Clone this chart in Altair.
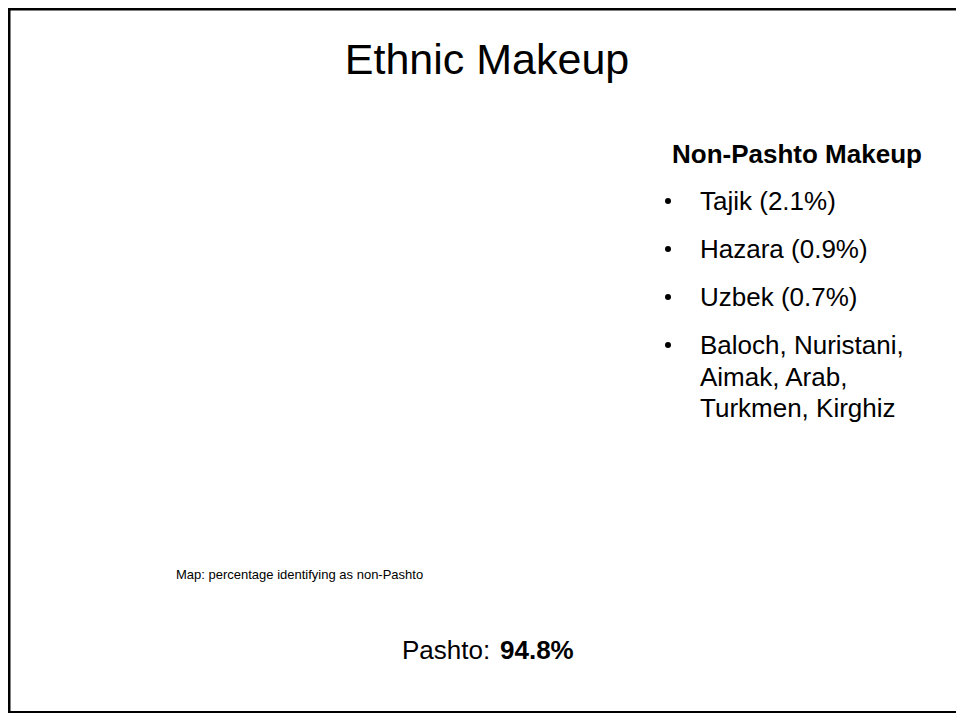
import altair as alt
import pandas as pd

# ---- content ----
title_text = "Ethnic Makeup"
side_heading = "Non-Pashto Makeup"
groups = ["Tajik", "Hazara", "Uzbek"]
group_shares = [2.1, 0.9, 0.7]
other_groups_lines = ["Baloch, Nuristani,", "Aimak, Arab,", "Turkmen, Kirghiz"]
map_caption = "Map: percentage identifying as non-Pashto"
pashto_label = "Pashto:"
pashto_share = 94.8

FONT = "Liberation Sans"
W, H = 948, 705

# ---- layout tables built from the arrays ----
bullet_baselines = [202, 250, 298, 346]
wrap_step = 31.5
lines = []
bullets = []
for i, (g, s) in enumerate(zip(groups, group_shares)):
    lines.append({"t": f"{g} ({s}%)", "y": bullet_baselines[i]})
    bullets.append({"y": bullet_baselines[i] - 9})
for j, t in enumerate(other_groups_lines):
    lines.append({"t": t, "y": bullet_baselines[3] + j * wrap_step})
bullets.append({"y": bullet_baselines[3] - 9})
lines_df = pd.DataFrame(lines)
bullets_df = pd.DataFrame(bullets)

ys = alt.Scale(domain=[0, H], range=[0, H])

def txt(s, x, y, size, weight="normal", align="left"):
    return alt.Chart(pd.DataFrame({"t": [s]})).mark_text(
        font=FONT, fontSize=size, fontWeight=weight, align=align,
        baseline="alphabetic", color="#000000"
    ).encode(x=alt.value(x), y=alt.value(y), text="t:N")

title = txt(title_text, 479, 66, 43, align="center")
heading = txt(side_heading, 664, 155, 26, weight="bold")
caption = txt(map_caption, 168, 571, 13)
p_label = txt(pashto_label, 394, 651, 26)
p_value = txt(f"{pashto_share}%", 492, 651, 26, weight="bold")

item_text = alt.Chart(lines_df).mark_text(
    font=FONT, fontSize=26, align="left", baseline="alphabetic", color="#000000"
).encode(
    x=alt.value(692),
    y=alt.Y("y:Q", scale=ys, axis=None),
    text="t:N",
)
item_bullets = alt.Chart(bullets_df).mark_point(
    filled=True, shape="circle", size=36, color="#000000", opacity=1
).encode(
    x=alt.value(660),
    y=alt.Y("y:Q", scale=ys, axis=None),
)

frame_df = pd.DataFrame({"k": [0]})
top_rule = alt.Chart(frame_df).mark_rule(color="#000000", strokeWidth=3).encode(
    x=alt.value(0), x2=alt.value(W), y=alt.value(1)
)
left_rule = alt.Chart(frame_df).mark_rule(color="#000000", strokeWidth=3).encode(
    x=alt.value(1), y=alt.value(0), y2=alt.value(H)
)
bottom_rule = alt.Chart(frame_df).mark_rule(color="#000000", strokeWidth=2).encode(
    x=alt.value(0), x2=alt.value(W), y=alt.value(H - 1)
)

chart = alt.layer(
    top_rule, left_rule, bottom_rule,
    title, heading, item_bullets, item_text, caption, p_label, p_value
).properties(
    width=W, height=H, padding=0, autosize=alt.AutoSizeParams(type="none"),
    background="#ffffff"
).configure_view(stroke=None)

chart.save("out.html", embed_options={"renderer": "svg", "actions": False})
